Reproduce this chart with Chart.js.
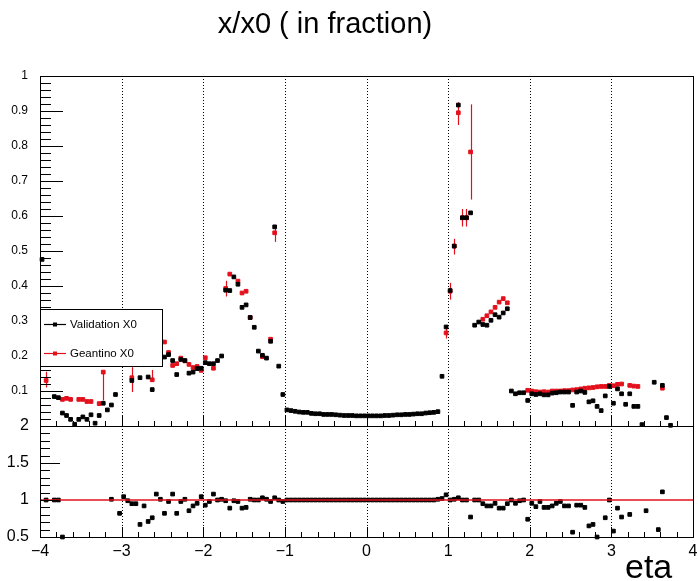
<!DOCTYPE html>
<html>
<head>
<meta charset="utf-8">
<script src="https://cdn.jsdelivr.net/npm/chart.js@4"></script>
<style>
html,body{margin:0;padding:0;background:#fff;}
#wrap{position:relative;width:698px;height:581px;overflow:hidden;background:#fff;font-family:"Liberation Sans",Arial,sans-serif;}
canvas{position:absolute;left:0;top:0;}
#title{position:absolute;top:9px;left:0;width:650px;text-align:center;font-size:29px;line-height:29px;color:#000;}
#xlab{position:absolute;top:549px;left:625px;font-size:34px;line-height:34px;color:#000;}
</style>
</head>
<body>
<div id="wrap">
<canvas id="top" width="698" height="581"></canvas>
<canvas id="bot" width="698" height="581"></canvas>
<div id="title">x/x0 ( in fraction)</div>
<div id="xlab">eta</div>
</div>
<script>
// ---------------- data ----------------
const etaValidation = [-3.975,-3.825,-3.775,-3.725,-3.675,-3.625,-3.575,-3.525,-3.475,-3.425,-3.375,-3.325,-3.275,-3.225,-3.175,-3.125,-3.075,
 -2.875,-2.775,-2.675,-2.625,-2.475,-2.425,-2.375,-2.325,-2.275,-2.225,-2.175,-2.125,-2.075,-2.025,
 -1.975,-1.925,-1.875,-1.825,-1.775,-1.725,-1.675,-1.625,-1.575,-1.525,-1.475,-1.425,-1.375,-1.325,-1.275,-1.225,-1.175,-1.125,-1.075,-1.025,
 -0.975,-0.925,-0.875,-0.825,-0.775,-0.725,-0.675,-0.625,-0.575,-0.525,-0.475,-0.425,-0.375,-0.325,-0.275,-0.225,-0.175,-0.125,-0.075,-0.025,
 0.025,0.075,0.125,0.175,0.225,0.275,0.325,0.375,0.425,0.475,0.525,0.575,0.625,0.675,0.725,0.775,0.825,0.875,
 0.925,0.975,1.025,1.075,1.125,1.175,1.225,1.275,1.325,1.375,1.425,1.475,1.525,1.575,1.625,1.675,1.725,1.775,1.825,1.875,1.925,1.975,
 2.025,2.075,2.125,2.175,2.225,2.275,2.325,2.375,2.425,2.475,2.525,2.575,2.625,2.675,2.725,2.775,2.825,2.875,2.925,2.975,
 3.025,3.075,3.125,3.175,3.225,3.275,3.325,3.375,3.525,3.625,3.675,3.725];
const validationX0 = [0.476,0.084,0.081,0.037,0.030,0.019,0.005,0.019,0.026,0.019,0.032,0.008,0.030,0.065,0.046,0.060,0.090,
 0.130,0.138,0.140,0.104,0.197,0.204,0.187,0.147,0.190,0.187,0.151,0.154,0.164,0.165,
 0.181,0.178,0.178,0.187,0.200,0.388,0.387,0.426,0.405,0.339,0.346,0.310,0.282,0.214,0.202,0.194,0.242,0.569,0.171,0.090,
 0.046,0.044,0.042,0.040,0.039,0.039,0.036,0.035,0.035,0.033,0.033,0.033,0.032,0.031,0.030,0.030,0.030,0.029,0.029,0.029,
 0.029,0.029,0.029,0.029,0.030,0.030,0.031,0.032,0.032,0.033,0.033,0.034,0.035,0.035,0.037,0.038,0.039,0.041,
 0.142,0.283,0.387,0.514,0.917,0.595,0.595,0.609,0.288,0.297,0.290,0.288,0.302,0.318,0.311,0.323,0.335,0.100,0.092,0.095,0.095,0.073,
 0.092,0.090,0.092,0.089,0.089,0.094,0.095,0.097,0.097,0.097,0.059,0.097,0.100,0.096,0.069,0.072,0.056,0.044,0.086,0.113,
 0.065,0.106,0.092,0.062,0.092,0.056,0.056,0.004,0.125,0.116,0.024,0.002];

const etaGeantino = [-3.925,-3.725,-3.675,-3.625,-3.525,-3.475,-3.425,-3.375,-3.275,-3.225,
 -2.875,-2.625,-2.475,-2.425,-2.375,-2.325,-2.275,-2.225,-2.175,-2.125,-2.075,-2.025,
 -1.975,-1.875,-1.725,-1.675,-1.575,-1.525,-1.475,-1.425,-1.275,-1.175,-1.125,
 0.975,1.025,1.075,1.125,1.175,1.225,1.275,1.425,1.475,1.525,1.575,1.625,1.675,1.725,
 1.975,2.025,2.075,2.125,2.175,2.225,2.275,2.325,2.375,2.425,2.475,2.525,2.575,2.625,2.675,2.725,2.775,2.825,2.875,2.925,2.975,
 3.025,3.075,3.125,3.225,3.275,3.325,3.625];
const geantinoX0 = [0.130,0.076,0.079,0.076,0.076,0.076,0.070,0.070,0.064,0.154,
 0.138,0.132,0.240,0.210,0.173,0.178,0.194,0.186,0.176,0.167,0.170,0.159,
 0.195,0.165,0.393,0.434,0.414,0.380,0.385,0.310,0.198,0.248,0.552,
 0.266,0.385,0.514,0.895,0.595,0.595,0.783,0.305,0.315,0.326,0.339,0.354,0.364,0.352,
 0.102,0.100,0.098,0.097,0.098,0.097,0.100,0.100,0.100,0.101,0.101,0.103,0.104,0.106,0.108,0.109,0.110,0.112,0.113,0.113,0.116,
 0.115,0.119,0.120,0.116,0.114,0.113,0.108];

// Geantino error bars (eta, low edge, high edge)
const etaErr  = [-3.925,-3.225,-2.875,-2.625,-1.725,-1.125,0.975,1.025,1.075,1.125,1.175,1.225,1.275];
const errLow  = [0.110,0.073,0.097,0.128,0.370,0.526,0.250,0.361,0.490,0.860,0.570,0.570,0.647];
const errHigh = [0.155,0.154,0.168,0.160,0.415,0.570,0.282,0.409,0.535,0.925,0.620,0.620,0.919];

const etaRatio = [-3.925,-3.825,-3.775,-3.725,-3.125,-3.025,-2.975,-2.925,-2.875,-2.825,-2.775,-2.725,-2.675,-2.625,-2.575,-2.525,-2.475,-2.425,-2.375,-2.325,-2.275,-2.225,-2.175,-2.125,-2.075,-2.025,
 -1.975,-1.925,-1.875,-1.825,-1.775,-1.725,-1.675,-1.625,-1.575,-1.525,-1.475,-1.425,-1.375,-1.325,-1.275,-1.225,-1.175,-1.125,-1.075,-1.025,
 -0.975,-0.925,-0.875,-0.825,-0.775,-0.725,-0.675,-0.625,-0.575,-0.525,-0.475,-0.425,-0.375,-0.325,-0.275,-0.225,-0.175,-0.125,-0.075,-0.025,
 0.025,0.075,0.125,0.175,0.225,0.275,0.325,0.375,0.425,0.475,0.525,0.575,0.625,0.675,0.725,0.775,0.825,
 0.875,0.925,0.975,1.025,1.075,1.125,1.175,1.225,1.275,1.325,1.375,1.425,1.475,1.525,1.575,1.625,1.675,1.725,1.775,1.825,1.875,1.925,1.975,
 2.025,2.075,2.125,2.175,2.225,2.275,2.325,2.375,2.425,2.475,2.525,2.575,2.625,2.675,2.725,2.775,2.825,2.925,2.975,
 3.025,3.075,3.125,3.225,3.425,3.575,3.625];
const ratioValues = [1.00,1.00,1.00,0.50,1.01,0.82,1.045,0.99,0.95,0.95,0.67,0.92,0.71,0.76,1.08,1.01,0.82,0.98,1.08,0.82,0.98,1.01,0.855,0.92,0.955,1.045,
 0.93,0.98,1.08,1.00,1.01,0.99,0.89,0.99,0.98,0.89,0.90,1.01,1.00,1.00,1.03,1.01,0.98,1.03,1.00,0.98,
 1.00,1.00,1.00,1.00,1.00,1.00,1.00,1.00,1.00,1.00,1.00,1.00,1.00,1.00,1.00,1.00,1.00,1.00,1.00,1.00,
 1.00,1.00,1.00,1.00,1.00,1.00,1.00,1.00,1.00,1.00,1.00,1.00,1.00,1.00,1.00,1.00,1.00,
 1.01,1.02,1.07,1.00,1.01,1.03,1.00,1.00,0.77,1.00,1.00,0.95,0.92,0.92,0.955,0.89,0.89,0.95,1.00,0.955,0.99,1.00,0.74,
 0.955,0.91,0.98,0.90,0.90,0.92,0.955,0.98,0.92,0.92,0.565,0.93,0.93,0.90,0.65,0.67,0.50,0.76,1.00,
 0.58,0.89,0.77,0.805,0.855,0.60,1.11];

const etaTicks = [-4,-3,-2,-1,0,1,2,3,4];
const gridEta = [-3,-2,-1,0,1,2,3];
const topTicks = [0,0.1,0.2,0.3,0.4,0.5,0.6,0.7,0.8,0.9,1];
const ratioTicks = [0.5,1,1.5,2];
const legendLabels = ["Validation X0","Geantino X0"];

// ---------------- helpers ----------------
const FONT = '"Liberation Sans", Arial, sans-serif';
const BLACK = '#000000';
const RED = '#e3101c';
function pts(xs, ys){ return xs.map((x,i)=>({x:x, y:ys[i]})); }
function fmt(v){ return String(v).replace('-', '\u2212'); }

function framePlugin(id, o){
  return {
    id: id,
    beforeDatasetsDraw(chart){
      const {ctx, chartArea:a, scales:{x}} = chart;
      ctx.save();
      ctx.strokeStyle = '#000'; ctx.lineWidth = 1; ctx.setLineDash([1,2]);
      gridEta.forEach(v=>{
        const px = Math.round(x.getPixelForValue(v)) + 0.5;
        ctx.beginPath(); ctx.moveTo(px, a.top); ctx.lineTo(px, a.bottom); ctx.stroke();
      });
      ctx.restore();
      if (o.errors){
        const y = chart.scales.y;
        ctx.save(); ctx.strokeStyle = RED; ctx.lineWidth = 1.2;
        etaErr.forEach((e,i)=>{
          const px = Math.round(x.getPixelForValue(e)) + 0.5;
          ctx.beginPath(); ctx.moveTo(px, y.getPixelForValue(errLow[i])); ctx.lineTo(px, y.getPixelForValue(errHigh[i])); ctx.stroke();
        });
        ctx.restore();
      }
    },
    afterDatasetsDraw(chart){
      const {ctx, chartArea:a, scales:{x,y}} = chart;
      ctx.save();
      if (o.refLine){
        ctx.strokeStyle = RED; ctx.lineWidth = 1.5;
        const py = y.getPixelForValue(1);
        ctx.beginPath(); ctx.moveTo(a.left, py); ctx.lineTo(a.right, py); ctx.stroke();
      }
      ctx.strokeStyle = '#000'; ctx.lineWidth = 1;
      ctx.strokeRect(Math.round(a.left)+0.5, Math.round(a.top)+0.5, Math.round(a.right-a.left), Math.round(a.bottom-a.top));
      for (let k=0; k<=o.yN; k++){
        const v = o.yMin + k*o.yStep;
        const py = Math.round(y.getPixelForValue(v)) + 0.5;
        const len = (k % o.yMajEvery === 0) ? o.yMajLen : o.yMinLen;
        ctx.beginPath(); ctx.moveTo(a.left, py); ctx.lineTo(a.left+len, py); ctx.stroke();
      }
      for (let k=0; k<=40; k++){
        const v = -4 + k*0.2;
        const px = Math.round(x.getPixelForValue(v)) + 0.5;
        const len = (k % 5 === 0) ? o.xMajLen : o.xMinLen;
        ctx.beginPath(); ctx.moveTo(px, a.bottom); ctx.lineTo(px, a.bottom-len); ctx.stroke();
      }
      ctx.restore();
      if (o.legend){
        const L = 40, T = 309, R = 163, B = 367;
        ctx.save();
        ctx.fillStyle = '#fff'; ctx.fillRect(L, T, R-L, B-T);
        ctx.strokeStyle = '#000'; ctx.lineWidth = 1;
        ctx.strokeRect(L+0.5, T+0.5, R-L-1, B-T-1);
        const rows = [[324, BLACK], [353, RED]];
        rows.forEach((r,i)=>{
          ctx.strokeStyle = r[1]; ctx.fillStyle = r[1]; ctx.lineWidth = 1.2;
          ctx.beginPath(); ctx.moveTo(44, r[0]+0.5); ctx.lineTo(66, r[0]+0.5); ctx.stroke();
          ctx.fillRect(53, r[0]-1.5, 4, 4);
          ctx.fillStyle = '#000';
          ctx.font = '11.5px ' + FONT; ctx.textBaseline = 'middle'; ctx.textAlign = 'left';
          ctx.fillText(legendLabels[i], 70, r[0]+0.5);
        });
        ctx.restore();
      }
    }
  };
}

function scatterSet(label, data, color){
  return {label:label, data:data, showLine:false, pointStyle:'rect', pointRadius:2.6,
    pointBorderWidth:1, pointBackgroundColor:color, pointBorderColor:color, backgroundColor:color, borderColor:color, clip:6};
}

// ---------------- upper chart ----------------
new Chart(document.getElementById('top'), {
  type:'scatter',
  data:{datasets:[
    scatterSet(legendLabels[0], pts(etaValidation, validationX0), BLACK),
    scatterSet(legendLabels[1], pts(etaGeantino, geantinoX0), RED)
  ]},
  options:{
    responsive:false, animation:false, events:[],
    layout:{padding:{top:76, right:3, bottom:155, left:0}},
    plugins:{legend:{display:false}, tooltip:{enabled:false}, title:{display:false}},
    scales:{
      x:{type:'linear', min:-4, max:4, display:false},
      y:{type:'linear', min:0, max:1,
        grid:{display:false}, border:{display:false},
        afterBuildTicks:(s)=>{ s.ticks = topTicks.map(v=>({value:v})); },
        afterFit:(s)=>{ s.width = 40; s.paddingTop = 0; s.paddingBottom = 0; },
        ticks:{color:'#000', font:{family:FONT, size:12}, padding:4,
          callback:(v)=> v === 0 ? '' : String(v)}
      }
    }
  },
  plugins:[framePlugin('topFrame', {yMin:0, yStep:0.02, yN:50, yMajEvery:5, yMajLen:23, yMinLen:11, xMajLen:10, xMinLen:5, legend:true, errors:true})]
});

// ---------------- ratio chart ----------------
new Chart(document.getElementById('bot'), {
  type:'scatter',
  data:{datasets:[ scatterSet('ratio', pts(etaRatio, ratioValues), BLACK) ]},
  options:{
    responsive:false, animation:false, events:[],
    layout:{padding:{top:426, right:3, bottom:0, left:0}},
    plugins:{legend:{display:false}, tooltip:{enabled:false}, title:{display:false}},
    scales:{
      x:{type:'linear', min:-4, max:4,
        grid:{display:false}, border:{display:false},
        afterBuildTicks:(s)=>{ s.ticks = etaTicks.map(v=>({value:v})); },
        afterFit:(s)=>{ s.height = 44; s.paddingLeft = 0; s.paddingRight = 0; },
        ticks:{color:'#000', font:{family:FONT, size:16}, padding:-3, maxRotation:0, autoSkip:false,
          callback:(v)=>fmt(v)}
      },
      y:{type:'linear', min:0.5, max:2,
        grid:{display:false}, border:{display:false},
        afterBuildTicks:(s)=>{ s.ticks = ratioTicks.map(v=>({value:v})); },
        afterFit:(s)=>{ s.width = 40; s.paddingTop = 0; s.paddingBottom = 0; },
        ticks:{color:'#000', font:{family:FONT, size:16}, padding:3,
          callback:(v)=>String(v)}
      }
    }
  },
  plugins:[framePlugin('botFrame', {yMin:0.5, yStep:0.1, yN:15, yMajEvery:5, yMajLen:20, yMinLen:10, xMajLen:10, xMinLen:5, refLine:true})]
});
</script>
</body>
</html>
